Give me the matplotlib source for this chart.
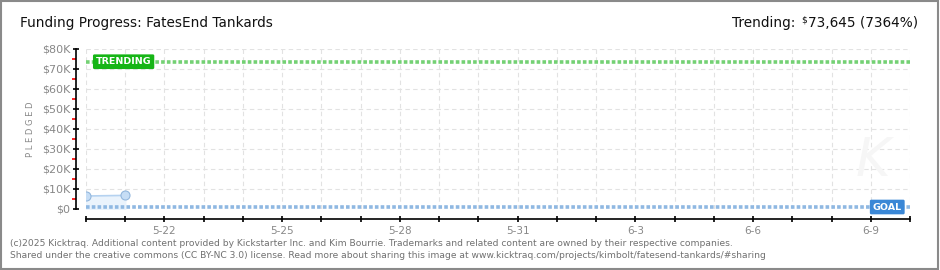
#!/usr/bin/env python3

import datetime as dt
import matplotlib
matplotlib.use('Agg')
import matplotlib.pyplot as plt
import matplotlib.dates as mdates
import matplotlib.ticker as mtick
import matplotlib.patches as mpatches

# data
dates = [dt.datetime(2025, 5, 20), dt.datetime(2025, 5, 21)]
pledged = [6500, 6800]
goal = 1000
trending = 73645
start = dt.datetime(2025, 5, 20)
end = dt.datetime(2025, 6, 10)
yticks = [0, 10000, 20000, 30000, 40000, 50000, 60000, 70000, 80000]

GRAY = '#888888'

fig = plt.figure(figsize=(9.4, 2.7), dpi=100)
ax = fig.add_axes([86 / 940, 1 - 209 / 270, 824 / 940, 160 / 270])

# grid
ax.grid(True, color='#e2e2e2', linestyle=(0, (4, 3)), linewidth=0.8)
ax.set_axisbelow(True)

# faint watermark
ax.text(0.955, 0.3, 'K', transform=ax.transAxes, fontsize=38, fontstyle='italic',
        color='#f6f6f6', ha='center', va='center', zorder=1)

# pledged series
ax.fill_between(dates, pledged, 0, color='#eaf3fc', zorder=2)
ax.plot(dates, pledged, color='#b5d2f0', linewidth=1.2, zorder=3)
ax.plot(dates, pledged, 'o', markersize=6.5, markerfacecolor='#c6ddf5',
        markeredgecolor='#93b7dd', markeredgewidth=0.8, zorder=4)

# goal and trending lines
ax.axhline(goal, color='#8fb8e2', linewidth=2.6, linestyle=(0, (1, 0.6)), zorder=3)
ax.axhline(trending, color='#74d174', linewidth=2.6, linestyle=(0, (1, 0.6)), zorder=3)

ax.text(start + dt.timedelta(hours=6), trending, 'TRENDING', color='white',
        fontsize=6.8, fontweight='bold', ha='left', va='center', zorder=5,
        bbox=dict(boxstyle='round,pad=0.3,rounding_size=0.15', facecolor='#16b516',
                  edgecolor='none'))
ax.text(end - dt.timedelta(hours=5), goal, 'GOAL', color='white',
        fontsize=6.8, fontweight='bold', ha='right', va='center', zorder=5,
        bbox=dict(boxstyle='round,pad=0.3,rounding_size=0.15', facecolor='#3a87d6',
                  edgecolor='none'))

ax.set_xlim(start, end)
ax.set_ylim(0, 80000)

# axes styling
for s in ['top', 'right']:
    ax.spines[s].set_visible(False)
ax.spines['left'].set_position(('outward', 7))
ax.spines['bottom'].set_position(('outward', 7.5))
ax.spines['left'].set_linewidth(1.2)
ax.spines['bottom'].set_linewidth(1.2)

ax.set_yticks(yticks)
ax.yaxis.set_major_formatter(mtick.FuncFormatter(
    lambda v, p: '\\$0' if v == 0 else '\\$%dK' % (v / 1000)))
ax.yaxis.set_minor_locator(mtick.FixedLocator([v + 5000 for v in yticks[:-1]]))
ax.tick_params(axis='y', which='major', direction='inout', length=5, width=1.2,
               color='black', labelcolor=GRAY, labelsize=8, pad=2)
ax.tick_params(axis='y', which='minor', direction='out', length=3, width=1.2,
               color='red')

ax.xaxis.set_major_locator(mdates.DayLocator())
ax.xaxis.set_major_formatter(mtick.FuncFormatter(
    lambda v, p: (lambda d: '%d-%d' % (d.month, d.day)
                  if (d.date() - start.date()).days % 3 == 2 else '')(mdates.num2date(v))))
ax.tick_params(axis='x', which='major', direction='inout', length=5, width=1.2,
               color='black', labelcolor=GRAY, labelsize=7.5, pad=2)

ax.set_ylabel('P L E D G E D', color=GRAY, fontsize=6, labelpad=5)

# header
hy = 1 - 23 / 270
fig.text(20 / 940, hy, 'Funding Progress: FatesEnd Tankards',
         fontsize=9.8, color='#111111', ha='left', va='center')
t_num = fig.text(918 / 940, hy, '73,645 (7364%)',
                 fontsize=9.8, color='#111111', ha='right', va='center')
renderer = fig.canvas.get_renderer()
x0 = t_num.get_window_extent(renderer).x0 / 940
t_dol = fig.text(x0 - 0.5 / 940, hy + 3 / 270, '$', fontsize=6.5, color='#111111',
                 ha='right', va='center')
x1 = t_dol.get_window_extent(renderer).x0 / 940
fig.text(x1 - 6 / 940, hy, 'Trending:', fontsize=9.8, color='#111111',
         ha='right', va='center')

# footer
fig.text(10 / 940, 1 - 243 / 270,
         '(c)2025 Kicktraq. Additional content provided by Kickstarter Inc. and Kim Bourrie. '
         'Trademarks and related content are owned by their respective companies.',
         fontsize=6.6, color='#707070', ha='left', va='center')
fig.text(10 / 940, 1 - 256 / 270,
         'Shared under the creative commons (CC BY-NC 3.0) license. Read more about sharing '
         'this image at www.kicktraq.com/projects/kimbolt/fatesend-tankards/#sharing',
         fontsize=6.6, color='#707070', ha='left', va='center')

# border
fig.patches.append(mpatches.Rectangle((0.001, 0.002), 0.997, 0.995, transform=fig.transFigure,
                                      fill=False, edgecolor='#8a8a8a', linewidth=1.5))

plt.savefig('out.png', dpi=100)
